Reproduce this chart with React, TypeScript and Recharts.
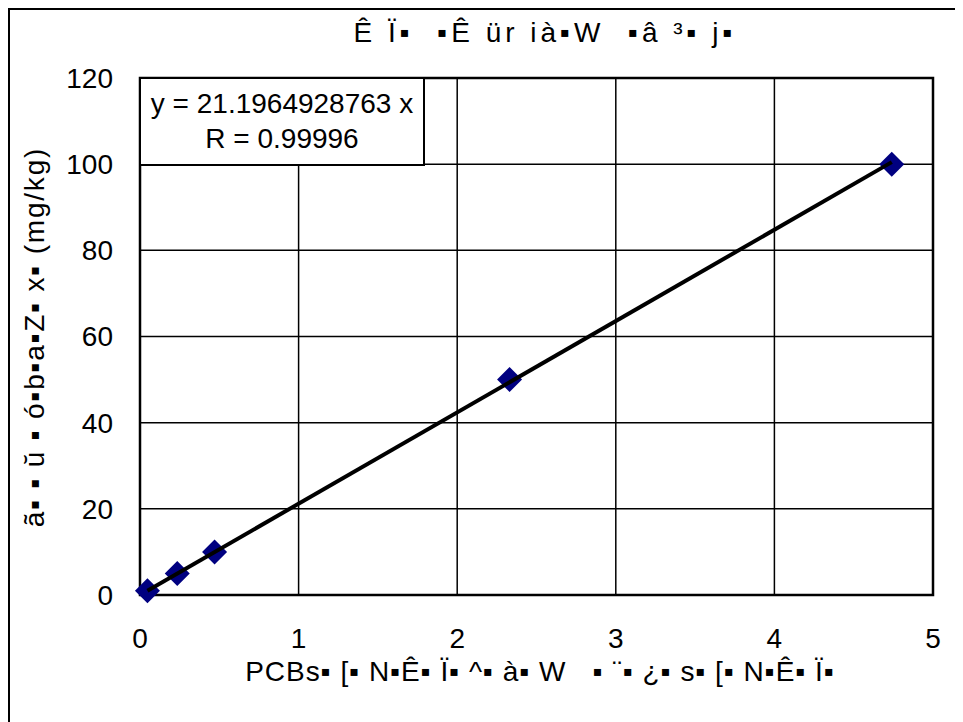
import React from "react";
import {
  ScatterChart,
  Scatter,
  XAxis,
  YAxis,
  CartesianGrid,
  ReferenceArea,
} from "recharts";

// PCB concentration (x) vs. known value (mg/kg) (y)
const xValues = [0.047, 0.235, 0.47, 2.33, 4.74];
const yValues = [1, 5, 10, 50, 100];
const xTicks = [0, 1, 2, 3, 4, 5];
const yTicks = [0, 20, 40, 60, 80, 100, 120];

// trend line from the displayed equation
const slope = 21.1964928763;
const rValue = "0.99996";

const titleText = "Ê Ï▪  ▪Ê ür ià▪W  ▪â ³▪ j▪";
const xLabelText = "PCBs▪ [▪ N▪Ê▪ Ï▪ ^▪ à▪ W   ▪ ¨▪ ¿▪ s▪ [▪ N▪Ê▪ Ï▪";
const yLabelText = "ã▪ ▪ ŭ ▪ ó▪b▪a▪Z▪ x▪ (mg/kg)";

const points = xValues.map((x, i) => ({ x, y: yValues[i] }));
const trend = [xValues[0], xValues[xValues.length - 1]].map((x) => ({
  x,
  y: slope * x,
}));

const FONT = "'Liberation Sans', Arial, sans-serif";

const Diamond = (props: any) => {
  const { cx, cy } = props;
  const r = 12.5;
  return (
    <polygon
      points={`${cx},${cy - r} ${cx + r},${cy} ${cx},${cy + r} ${cx - r},${cy}`}
      fill="#000080"
    />
  );
};

export default function App() {
  return (
    <div
      style={{
        position: "relative",
        width: 960,
        height: 720,
        border: "2px solid #000",
        boxSizing: "border-box",
        fontFamily: FONT,
        background: "#fff",
      }}
    >
      <ScatterChart
        width={950}
        height={712}
        margin={{ top: 68, right: 27, left: 70, bottom: 87 }}
      >
        <CartesianGrid stroke="#000" strokeWidth={1.5} />
        <XAxis
          type="number"
          dataKey="x"
          domain={[0, 5]}
          ticks={xTicks}
          height={40}
          tickLine={false}
          axisLine={false}
          tickSize={0}
          tickMargin={33}
          tick={{ fill: "#000", fontSize: 28, fontFamily: FONT }}
          interval={0}
        />
        <YAxis
          type="number"
          dataKey="y"
          domain={[0, 120]}
          ticks={yTicks}
          width={60}
          tickLine={false}
          axisLine={false}
          tickSize={0}
          tickMargin={27}
          tick={{ fill: "#000", fontSize: 28, fontFamily: FONT }}
          interval={0}
        />
        <ReferenceArea
          x1={0}
          x2={5}
          y1={0}
          y2={120}
          fill="none"
          fillOpacity={0}
          stroke="#000"
          strokeWidth={2.5}
        />
        <Scatter
          data={points}
          shape={<Diamond />}
          isAnimationActive={false}
        />
        <Scatter
          data={trend}
          line={{ stroke: "#000", strokeWidth: 4 }}
          shape={() => null}
          isAnimationActive={false}
        />
      </ScatterChart>

      {/* equation box */}
      <div
        style={{
          position: "absolute",
          left: 129,
          top: 67,
          width: 286,
          height: 89,
          border: "2px solid #000",
          boxSizing: "border-box",
          background: "#fff",
          fontSize: 28,
          lineHeight: "35px",
          textAlign: "center",
          paddingTop: 7,
          whiteSpace: "nowrap",
        }}
      >
        <div>y = {slope.toFixed(10)} x</div>
        <div>R = {rValue}</div>
      </div>

      {/* title */}
      <div
        style={{
          position: "absolute",
          left: 235,
          width: 600,
          top: 5,
          fontSize: 28,
          lineHeight: "36px",
          letterSpacing: 4,
          textAlign: "center",
          whiteSpace: "pre",
        }}
      >
        {titleText}
      </div>

      {/* x axis label */}
      <div
        style={{
          position: "absolute",
          left: 180,
          width: 700,
          top: 644,
          fontSize: 28,
          lineHeight: "36px",
          letterSpacing: 1,
          textAlign: "center",
          whiteSpace: "pre",
        }}
      >
        {xLabelText}
      </div>

      {/* y axis label */}
      <div
        style={{
          position: "absolute",
          left: 25 - 250,
          top: 327 - 18,
          width: 500,
          fontSize: 28,
          lineHeight: "36px",
          letterSpacing: 1.8,
          textAlign: "center",
          whiteSpace: "pre",
          transform: "rotate(-90deg)",
        }}
      >
        {yLabelText}
      </div>
    </div>
  );
}
